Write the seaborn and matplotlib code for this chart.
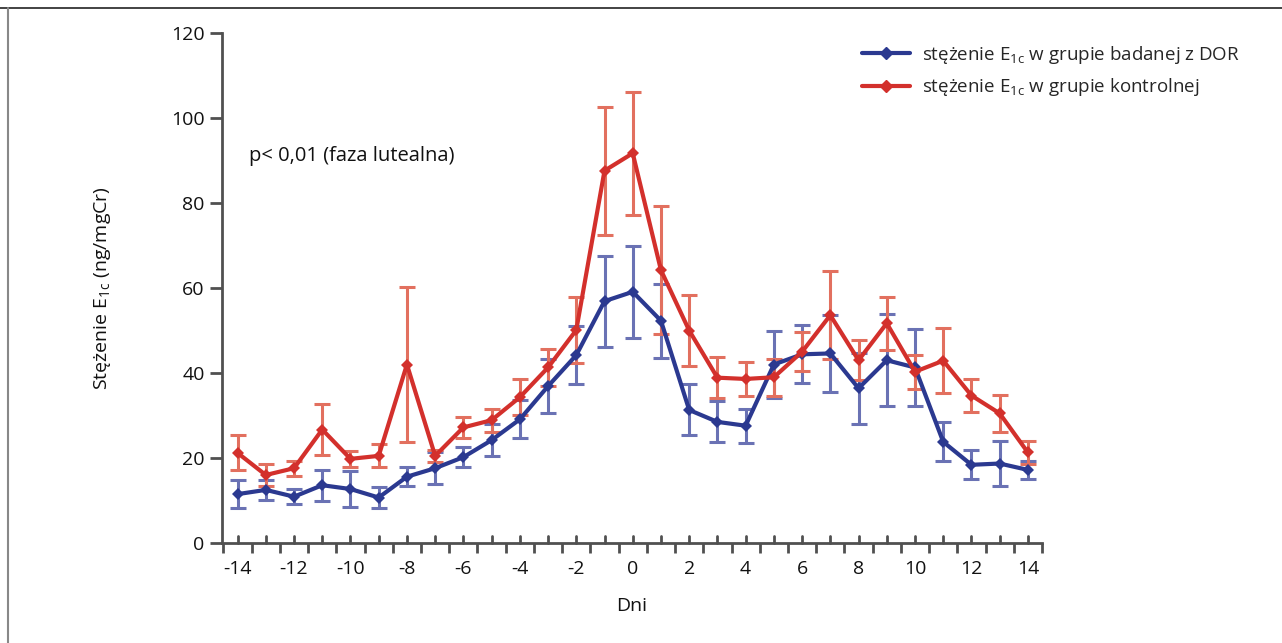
import matplotlib
matplotlib.use('Agg')
import matplotlib.pyplot as plt
from matplotlib.lines import Line2D
import seaborn as sns
import pandas as pd
import numpy as np

days = list(range(-14, 15))

dor_mean = [11.5, 12.5, 10.9, 13.6, 12.7, 10.7, 15.6, 17.6, 20.2, 24.2, 29.1, 36.9, 44.2, 56.9, 59.1,
            52.3, 31.3, 28.5, 27.6, 42.0, 44.4, 44.6, 36.4, 43.0, 41.3, 23.8, 18.4, 18.7, 17.2]
dor_err = [3.3, 2.3, 1.7, 3.6, 4.2, 2.4, 2.2, 3.8, 2.4, 3.8, 4.5, 6.3, 6.8, 10.7, 10.8,
           8.7, 6.0, 4.8, 4.0, 7.8, 6.8, 9.0, 8.4, 10.8, 9.0, 4.6, 3.4, 5.2, 2.2]

ctrl_mean = [21.2, 16.0, 17.6, 26.7, 19.8, 20.5, 42.0, 20.5, 27.2, 28.9, 34.3, 41.3, 50.1, 87.6, 91.7,
             64.2, 50.0, 38.9, 38.6, 39.0, 45.0, 53.6, 43.0, 51.7, 40.3, 42.9, 34.7, 30.5, 21.3]
ctrl_err = [4.1, 2.6, 1.8, 6.1, 1.9, 2.7, 18.3, 1.5, 2.5, 2.7, 4.2, 4.3, 7.8, 15.1, 14.5,
            15.0, 8.3, 4.8, 3.9, 4.3, 4.6, 10.4, 4.7, 6.3, 4.0, 7.6, 3.9, 4.4, 2.7]

lab_dor = 'stężenie E$_{\\mathregular{1c}}$ w grupie badanej z DOR'
lab_ctrl = 'stężenie E$_{\\mathregular{1c}}$ w grupie kontrolnej'

df = pd.DataFrame({
    'dzien': days + days,
    'stezenie': dor_mean + ctrl_mean,
    'err': dor_err + ctrl_err,
    'grupa': [lab_dor] * len(days) + [lab_ctrl] * len(days),
})

blue = '#2b3990'
red = '#d3302c'
blue_bar = '#6a72b4'
red_bar = '#e2705f'

sns.set_style('white')
plt.rcParams['font.family'] = ['Open Sans', 'DejaVu Sans']
plt.rcParams['mathtext.default'] = 'regular'
plt.rcParams['axes.unicode_minus'] = False

fig = plt.figure(figsize=(12.82, 6.43), dpi=100)
ax = fig.add_axes([0.1732, 0.1555, 0.8128 - 0.1732, 0.9487 - 0.1555])

# error bars first, lines on top
for g, c in [(lab_dor, blue_bar), (lab_ctrl, red_bar)]:
    d = df[df['grupa'] == g]
    ax.errorbar(d['dzien'], d['stezenie'], yerr=d['err'], fmt='none',
                ecolor=c, elinewidth=2.2, capsize=5.5, capthick=2.2, zorder=2)

sns.lineplot(data=df, x='dzien', y='stezenie', hue='grupa',
             palette={lab_dor: blue, lab_ctrl: red}, marker='D', markersize=6,
             markeredgewidth=0, linewidth=3, ax=ax, zorder=3, legend=False)

ax.set_xlim(-14.55, 14.5)
ax.set_ylim(0, 120)
ax.set_xticks(range(-14, 15, 2))
ax.set_xticks(np.arange(-14.5, 14.6, 1.0), minor=True)
ax.set_yticks(range(0, 121, 20))

axis_col = '#505050'
for s in ['top', 'right']:
    ax.spines[s].set_visible(False)
for s in ['left', 'bottom']:
    ax.spines[s].set_color(axis_col)
    ax.spines[s].set_linewidth(2)

ax.tick_params(axis='y', which='major', direction='out', length=9, width=2,
               color=axis_col, labelsize=14, labelcolor='#111111', left=True)
ax.tick_params(axis='x', which='major', direction='in', length=0, pad=12,
               labelsize=14, labelcolor='#111111', bottom=True)
ax.tick_params(axis='x', which='minor', direction='out', length=7, width=2,
               color=axis_col, bottom=True)

# small up-ticks on every day
for x in days:
    ax.plot([x, x], [0, 1.6], color=axis_col, lw=2, clip_on=False, zorder=1)

ax.set_xlabel('Dni', fontsize=14, color='#111111', labelpad=14)
ax.set_ylabel('Stężenie E$_{\\mathregular{1c}}$ (ng/mgCr)', fontsize=14, color='#111111', labelpad=42)

ax.text(-13.6, 91, 'p< 0,01 (faza lutealna)', fontsize=14.5, color='#111111', va='center', ha='left')

handles = [Line2D([], [], color=blue, lw=3, marker='D', markersize=6),
           Line2D([], [], color=red, lw=3, marker='D', markersize=6)]
fig.legend(handles, [lab_dor, lab_ctrl], loc='upper left', bbox_to_anchor=(0.659, 0.958),
           frameon=False, fontsize=13.5, handlelength=2.6, handletextpad=0.6, labelspacing=0.55)

# frame lines of the original figure (top and left)
fig.add_artist(Line2D([0, 1], [1 - 7.5 / 643, 1 - 7.5 / 643], color='#222222', lw=1.2, transform=fig.transFigure))
fig.add_artist(Line2D([8 / 1282, 8 / 1282], [0, 1 - 7.5 / 643], color='#888888', lw=1.5, transform=fig.transFigure))

fig.savefig('out.png', dpi=100)
